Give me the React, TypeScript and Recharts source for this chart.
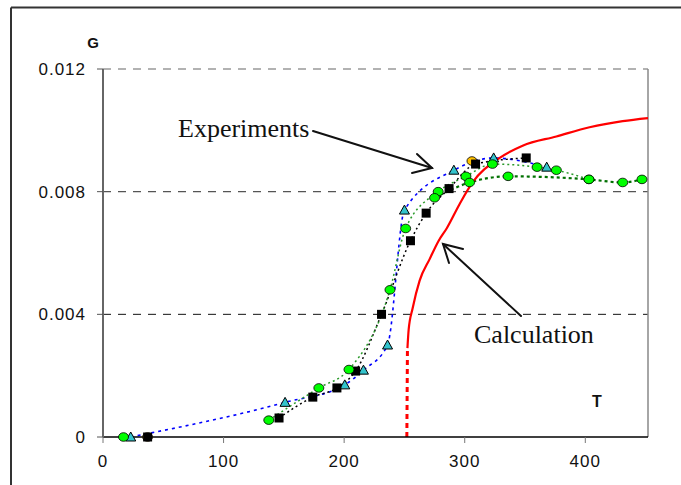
import { ComposedChart, Line, Scatter, XAxis, YAxis, ReferenceLine } from "recharts";

// squares (black)
const squareT = [37, 146, 174, 194, 209.5, 231, 255, 268, 287, 309, 351];
const squareG = [0, 0.00062, 0.0013, 0.0016, 0.00215, 0.004, 0.0064, 0.0073, 0.0081, 0.0089, 0.0091];

// triangles (cyan)
const triT = [23, 151, 200.5, 216, 236, 250, 291, 324, 368];
const triG = [0, 0.00113, 0.0017, 0.00218, 0.003, 0.0074, 0.0087, 0.0091, 0.0088];

// circles (green), two runs
const circ1T = [17, 137.5, 179, 204, 238, 251, 278, 301, 323, 360, 376, 403];
const circ1G = [0, 0.00055, 0.0016, 0.0022, 0.0048, 0.0068, 0.008, 0.0085, 0.0089, 0.0088, 0.0087, 0.0084];
const circ2T = [275, 304, 336, 403, 431, 447];
const circ2G = [0.0078, 0.0083, 0.0085, 0.0084, 0.0083, 0.0084];

// orange circles
const orangeT = [37, 306];
const orangeG = [0, 0.009];

// calculation
const calcDotT = [252, 252.5];
const calcDotG = [0, 0.0029];
const calcT = [252.5, 253.5, 256.8, 262.6, 270.9, 278.4, 285, 295.8, 306.5, 329, 348, 376, 403.5, 431, 452];
const calcG = [0.0029, 0.0035, 0.0042, 0.0051, 0.0058, 0.0064, 0.0068, 0.0076, 0.0083, 0.0091, 0.0095, 0.0098, 0.0101, 0.0103, 0.0104];

const xTicks = [0, 100, 200, 300, 400];
const yTicks = [0, 0.004, 0.008, 0.012];

const toPts = (t: number[], g: number[]) => t.map((x, i) => ({ x, y: g[i] }));

const Square = (p: any) => (
  <rect x={p.cx - 4.5} y={p.cy - 4.5} width={9} height={9} fill="#000" />
);
const Tri = (p: any) => (
  <path
    d={`M${p.cx},${p.cy - 5} L${p.cx + 5},${p.cy + 4} L${p.cx - 5},${p.cy + 4} Z`}
    fill="#33c3cc"
    stroke="#000"
    strokeWidth={1}
  />
);
const Circ = (p: any) => (
  <ellipse cx={p.cx} cy={p.cy} rx={5} ry={4.3} fill="#00ff00" stroke="#000" strokeWidth={0.8} />
);
const Orange = (p: any) => (
  <ellipse cx={p.cx} cy={p.cy} rx={5} ry={4.3} fill="#ffc000" stroke="#000" strokeWidth={0.8} />
);

const tickStyle = {
  fontSize: 17,
  fill: "#111",
  fontFamily: "'Liberation Sans', Arial, sans-serif",
  letterSpacing: 1,
};

export default function App() {
  return (
    <div style={{ position: "absolute", left: 0, top: 0, width: 681, height: 485, overflow: "hidden", background: "#fff" }}>
      <ComposedChart width={681} height={485} margin={{ top: 69, right: 33, bottom: 18, left: 0 }}>
        <XAxis
          type="number"
          dataKey="x"
          domain={[0, 452]}
          ticks={xTicks}
          height={30}
          tickSize={6}
          tickMargin={12}
          axisLine={{ stroke: "#000", strokeWidth: 1.5 }}
          tickLine={{ stroke: "#777" }}
          tick={tickStyle}
        />
        <YAxis
          type="number"
          dataKey="y"
          domain={[0, 0.012]}
          ticks={yTicks}
          width={103}
          tickSize={6}
          tickMargin={11}
          tickFormatter={(v: number) => String(v)}
          axisLine={{ stroke: "#666", strokeWidth: 2 }}
          tickLine={{ stroke: "#555" }}
          tick={tickStyle}
        />
        <ReferenceLine y={0.004} stroke="#111" strokeDasharray="8 7" />
        <ReferenceLine y={0.008} stroke="#555" strokeDasharray="8 7" strokeWidth={1.3} />
        <ReferenceLine y={0.012} stroke="#999" strokeDasharray="8 7" strokeWidth={1.3} />
        <ReferenceLine x={452} stroke="#888" strokeWidth={1.5} />

        <Line data={toPts(triT, triG)} dataKey="y" type="monotone" stroke="#0000ff" strokeWidth={1.6} strokeDasharray="3 4" dot={false} activeDot={false} isAnimationActive={false} />
        <Line data={toPts(squareT, squareG).slice(1)} dataKey="y" type="monotone" stroke="#000" strokeWidth={1.5} strokeDasharray="2 3" dot={false} activeDot={false} isAnimationActive={false} />
        <Line data={toPts(circ1T, circ1G).slice(1)} dataKey="y" type="monotone" stroke="#2a9a2a" strokeWidth={1.5} strokeDasharray="2 3" dot={false} activeDot={false} isAnimationActive={false} />
        <Line data={toPts(circ2T, circ2G)} dataKey="y" type="monotone" stroke="#007000" strokeWidth={2.2} strokeDasharray="3 3" dot={false} activeDot={false} isAnimationActive={false} />

        <Scatter data={toPts(orangeT, orangeG)} dataKey="y" shape={Orange} isAnimationActive={false} />
        <Scatter data={toPts(triT, triG)} dataKey="y" shape={Tri} isAnimationActive={false} />
        <Scatter data={toPts(squareT, squareG)} dataKey="y" shape={Square} isAnimationActive={false} />
        <Scatter data={toPts(circ1T, circ1G)} dataKey="y" shape={Circ} isAnimationActive={false} />
        <Scatter data={toPts(circ2T, circ2G)} dataKey="y" shape={Circ} isAnimationActive={false} />

        <Line data={toPts(calcDotT, calcDotG)} dataKey="y" type="linear" stroke="#ff0000" strokeWidth={3} strokeDasharray="5 4" dot={false} activeDot={false} isAnimationActive={false} />
        <Line data={toPts(calcT, calcG)} dataKey="y" type="monotone" stroke="#ff0000" strokeWidth={2.2} dot={false} activeDot={false} isAnimationActive={false} />
      </ComposedChart>

      <svg width={681} height={485} style={{ position: "absolute", left: 0, top: 0, pointerEvents: "none" }}>
        <line x1={11} y1={7.5} x2={681} y2={7.5} stroke="#333" strokeWidth={2} />
        <line x1={11} y1={7.5} x2={11} y2={485} stroke="#333" strokeWidth={2} />
        <text x={93} y={47.5} textAnchor="middle" fontFamily="'Liberation Sans', Arial, sans-serif" fontWeight="bold" fontSize={15} fill="#111">G</text>
        <text x={597} y={406.5} textAnchor="middle" fontFamily="'Liberation Sans', Arial, sans-serif" fontWeight="bold" fontSize={16} fill="#111">T</text>
        <text x={178} y={137} fontFamily="'Liberation Serif', 'Times New Roman', serif" fontSize={26} fill="#111">Experiments</text>
        <text x={474} y={343} fontFamily="'Liberation Serif', 'Times New Roman', serif" fontSize={26} fill="#111">Calculation</text>
        <g stroke="#111" strokeWidth={2} fill="none" strokeLinecap="round">
          <line x1={313} y1={131} x2={432} y2={168} />
          <polyline points="417,154 432,168 412,173" />
          <line x1={521} y1={316} x2={443} y2={244} />
          <polyline points="463,249 443,244 449,263" />
        </g>
      </svg>
    </div>
  );
}
